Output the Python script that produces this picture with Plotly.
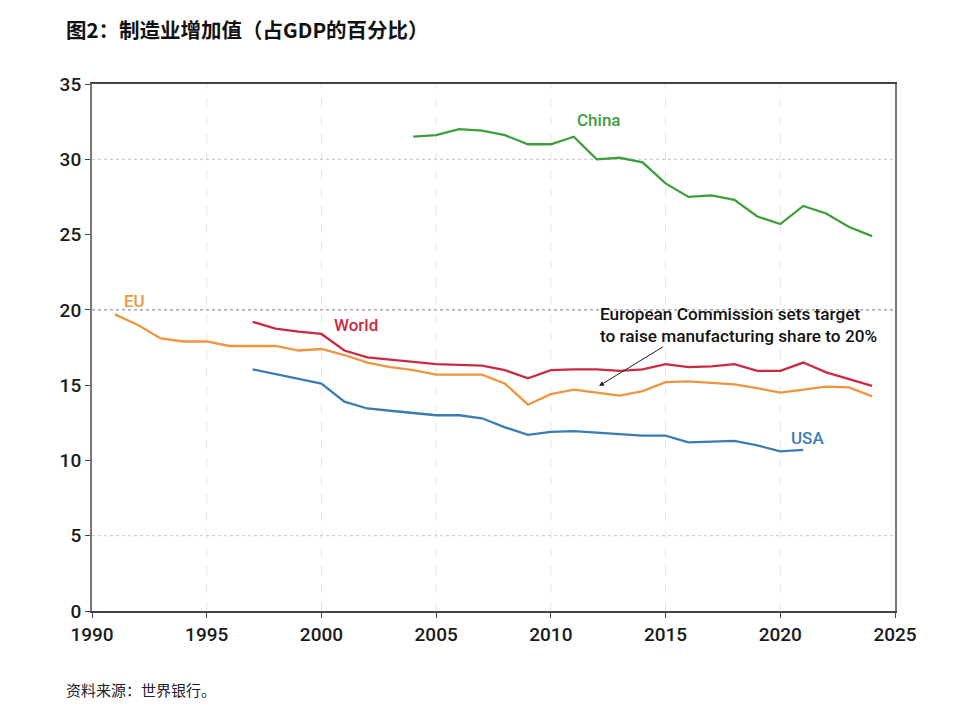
import plotly.graph_objects as go

years_china = list(range(2004, 2025))
china = [31.5, 31.6, 32.0, 31.9, 31.6, 31.0, 31.0, 31.5, 30.0, 30.1, 29.8,
         28.4, 27.5, 27.6, 27.3, 26.2, 25.7, 26.9, 26.4, 25.5, 24.9]

years_eu = list(range(1991, 2025))
eu = [19.7, 19.0, 18.1, 17.9, 17.9, 17.6, 17.6, 17.6, 17.3, 17.4,
      17.0, 16.5, 16.2, 16.0, 15.7, 15.7, 15.7, 15.1, 13.7, 14.4,
      14.7, 14.5, 14.3, 14.6, 15.2, 15.25, 15.15, 15.05, 14.8, 14.5,
      14.7, 14.9, 14.85, 14.25]

years_world = list(range(1997, 2025))
world = [19.2, 18.75, 18.55, 18.4, 17.3, 16.85, 16.7, 16.55, 16.4, 16.35,
         16.3, 16.0, 15.45, 16.0, 16.05, 16.05, 15.95, 16.05, 16.4, 16.2,
         16.25, 16.4, 15.95, 15.95, 16.5, 15.85, 15.4, 14.95]

years_usa = list(range(1997, 2022))
usa = [16.05, 15.75, 15.4, 15.1, 13.9, 13.45, 13.3, 13.15, 13.0, 13.0,
       12.8, 12.2, 11.7, 11.9, 11.95, 11.85, 11.75, 11.65, 11.65, 11.2,
       11.25, 11.3, 11.0, 10.6, 10.7]

x_ticks = [1990, 1995, 2000, 2005, 2010, 2015, 2020, 2025]
y_ticks = [0, 5, 10, 15, 20, 25, 30, 35]

GREEN = "#3f9e3c"
ORANGE = "#ef9540"
RED = "#cb2a45"
BLUE = "#3b7db3"
SANS = "Roboto, Noto Sans, sans-serif"
TICKFONT = dict(family=SANS, size=19, color="#1a1a1a", weight=500)

fig = go.Figure()
for xs, ys, col in [(years_eu, eu, ORANGE), (years_usa, usa, BLUE),
                    (years_world, world, RED), (years_china, china, GREEN)]:
    fig.add_trace(go.Scatter(x=xs, y=ys, mode="lines",
                             line=dict(color=col, width=2.3),
                             showlegend=False, hoverinfo="x+y"))

# gridlines (only some horizontals are drawn in the original)
for yr in x_ticks[1:-1]:
    fig.add_shape(type="line", xref="x", yref="paper", x0=yr, x1=yr, y0=0, y1=1,
                  line=dict(color="#e6e6e6", width=1, dash="dash"), layer="below")
for yv, col in [(30, "#c4c4c4"), (20, "#777777"), (5, "#c4c4c4")]:
    fig.add_shape(type="line", xref="paper", yref="y", x0=0, x1=1, y0=yv, y1=yv,
                  line=dict(color=col, width=1, dash="dot"), layer="below")

labels = [("China", 2012.1, 32.6, GREEN), ("EU", 1991.85, 20.6, ORANGE),
          ("World", 2001.5, 19.0, RED), ("USA", 2021.2, 11.5, BLUE)]
for txt, lx, ly, col in labels:
    fig.add_annotation(x=lx, y=ly, text=txt, showarrow=False, xanchor="center",
                       font=dict(family=SANS, size=17, color=col, weight=500))

fig.add_annotation(x=2012.05, y=19.0,
                   text="European Commission sets target<br>to raise manufacturing share to 20%",
                   showarrow=False, xanchor="left", align="left",
                   font=dict(family=SANS, size=17.2, color="#111111", weight=500))
fig.add_annotation(x=2012.1, y=14.95, ax=2014.95, ay=17.6, xref="x", yref="y",
                   axref="x", ayref="y", text="", showarrow=True,
                   arrowhead=2, arrowsize=1, arrowwidth=1, arrowcolor="#222222")

fig.add_annotation(x=0, y=1, xref="paper", yref="paper", xanchor="left", yanchor="top",
                   text="<b>图2：制造业增加值（占GDP的百分比）</b>", showarrow=False,
                   xshift=-28, yshift=72,
                   font=dict(family="Noto Sans CJK SC", size=20.5, color="#111111"))
fig.add_annotation(x=0, y=0, xref="paper", yref="paper", xanchor="left", yanchor="top",
                   text="资料来源：世界银行。", showarrow=False,
                   xshift=-28, yshift=-66,
                   font=dict(family="Noto Sans CJK SC", size=15, color="#222222"))

fig.update_xaxes(range=[1990, 2025], tickvals=x_ticks, showgrid=False, zeroline=False,
                 ticks="outside", ticklen=5, tickcolor="#444444",
                 showline=True, linecolor="#444444", linewidth=2, mirror=True,
                 tickfont=TICKFONT)
fig.update_yaxes(range=[0, 35], tickvals=y_ticks, showgrid=False, zeroline=False,
                 ticks="outside", ticklen=5, tickcolor="#444444",
                 showline=True, linecolor="#777777", linewidth=2, mirror=True,
                 tickfont=TICKFONT)

fig.update_layout(width=962, height=710, plot_bgcolor="white", paper_bgcolor="white",
                  margin=dict(l=84, r=75, t=76, b=107))
fig.write_html("out.html")
